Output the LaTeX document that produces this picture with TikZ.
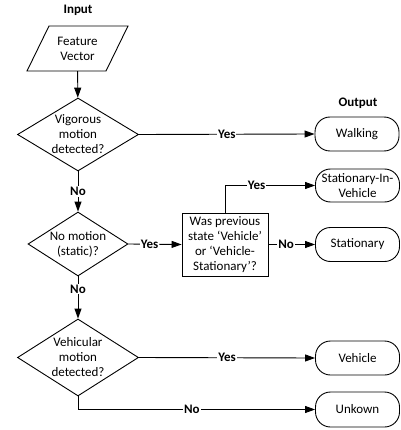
\documentclass[tikz,border=0pt]{standalone}
\usepackage{fontspec}
\setmainfont{Carlito}
\usetikzlibrary{shapes.geometric,arrows.meta,calc}
\begin{document}
\begin{tikzpicture}[x=1pt,y=-1pt,
  every node/.style={font=\fontsize{13}{15}\selectfont, align=center},
  ln/.style={line width=0.9pt},
  arr/.style={ln, -{Triangle[length=10pt,width=7pt]}},
  dec/.style={ln, draw, diamond, inner sep=0pt},
  endbox/.style={ln, draw, rounded corners=15pt, minimum width=84pt, inner sep=0pt},
  qbox/.style={ln, draw, minimum width=86pt, minimum height=63pt, inner sep=0pt},
  lbl/.style={fill=white, inner sep=1pt, font=\bfseries\fontsize{13}{15}\selectfont},
  ttl/.style={font=\bfseries\fontsize{13}{15}\selectfont}]
\useasboundingbox (0,0) rectangle (400,430);

% titles
\node[ttl] (tin) at (78,10) {Input};
\node[ttl] (tout) at (358,103) {Output};

% input parallelogram
\node[minimum width=60pt, minimum height=45pt, inner sep=0pt] (fv) at (77.5,48.5) {Feature\\Vector};
\draw[ln] (49,26) -- (128,26) -- (106,71) -- (27,71) -- cycle;

% decisions
\node[dec, minimum width=121pt, minimum height=73pt,
  label={[align=center]center:{Vigorous\\motion\\detected?}}] (d1) at (78,134.5) {};
\node[dec, minimum width=100pt, minimum height=64pt,
  label={[align=center]center:{No motion\\(static)?}}] (d2) at (78,244) {};
\node[dec, minimum width=121pt, minimum height=77pt,
  label={[align=center]center:{Vehicular\\motion\\detected?}}] (d3) at (78,357.5) {};

% question box
\node[qbox] (q) at (225,244.5) {Was previous\\state ‘Vehicle’\\or ‘Vehicle-\\Stationary’?};

% outputs
\node[endbox, minimum height=34pt] (walk) at (357,134) {Walking};
\node[endbox, minimum height=33pt] (siv) at (357.5,185.5) {Stationary-In-\\Vehicle};
\node[endbox, minimum height=34pt] (stat) at (357.5,244.5) {Stationary};
\node[endbox, minimum height=34pt] (veh) at (357.5,358) {Vehicle};
\node[endbox, minimum height=35pt] (unk) at (357.5,409.5) {Unkown};

% connectors
\draw[arr] (fv) -- (d1);
\draw[arr] (d1.east) -- node[lbl] {Yes} (walk.west);
\draw[arr] (d1.south) -- node[lbl] {No} (d2.north);
\draw[arr] (d2.east) -- node[lbl, pos=0.4] {Yes} (q.west);
\draw[arr] (d2.south) -- node[lbl, pos=0.3] {No} (d3.north);
\draw[arr] (q.north) |- node[lbl, pos=0.675] {Yes} (siv.west);
\draw[arr] (q.east) -- node[lbl, pos=0.38] {No} (stat.west);
\draw[arr] (d3.east) -- node[lbl] {Yes} (veh.west);
\draw[arr] (d3.south) |- node[lbl, pos=0.74] {No} (unk.west);
\end{tikzpicture}
\end{document}
